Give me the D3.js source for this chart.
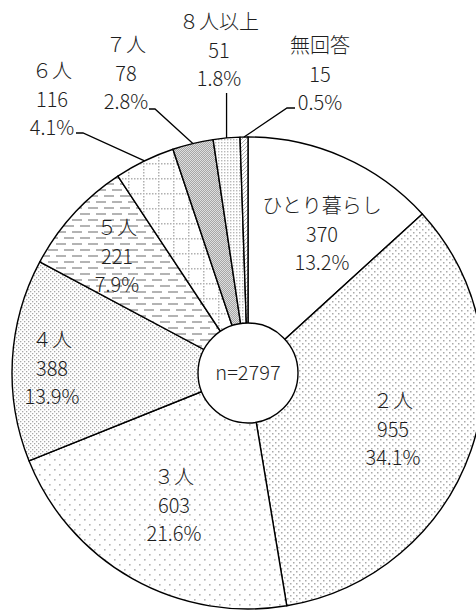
<!DOCTYPE html>
<html>
<head>
<meta charset="utf-8">
<script src="https://cdn.jsdelivr.net/npm/d3@7"></script>
<style>
html,body{margin:0;padding:0;background:#fff;overflow:hidden;}
svg{display:block;}
text{font-family:"Noto Sans CJK JP","Noto Sans",sans-serif;fill:#1e1e1e;font-weight:300;}
</style>
</head>
<body>
<svg id="chart" width="476" height="610"></svg>
<script>
// ---- data ----
const categories = ["ひとり暮らし","２人","３人","４人","５人","６人","７人","８人以上","無回答"];
const counts = [370,955,603,388,221,116,78,51,15];
const percents = ["13.2%","34.1%","21.6%","13.9%","7.9%","4.1%","2.8%","1.8%","0.5%"];
const totalLabel = "n=2797";

// ---- layout (not data) ----
const W = 476, H = 610;
const cx = 248, cy = 373, R = 236, r0 = 50;
const patternIds = ["pNone","p2","p3","p4","p5","p6","p7","p8","pNA"];
// label anchors: [centerX, firstBaseline]
const labelPos = [[322,213],[393,408],[174,484],[52,347],[117,235],[52,78],[126,52],[219,29],[320,53]];
const lineGap = 28.5;
// leader lines for outside labels: index -> [elbow, end]
const leaders = {5:[[83,133],[76,133]],6:[[155,109],[149,109]],7:[null,[227,93]],8:[[287,108],[295,108]]};

const svg = d3.select("#chart");
const defs = svg.append("defs");

function pat(id,w,h,draw,bg){
  const p = defs.append("pattern").attr("id",id).attr("patternUnits","userSpaceOnUse")
    .attr("width",w).attr("height",h);
  p.append("rect").attr("width",w).attr("height",h).attr("fill",bg||"#fff");
  draw(p);
}
const dot = (p,x,y,s,c)=>p.append("rect").attr("x",x).attr("y",y).attr("width",s).attr("height",s).attr("fill",c);

pat("pNone",4,4,()=>{});
pat("p2",6,6,p=>{dot(p,0,0,1.5,"#aaaaaa");dot(p,3,3,1.5,"#aaaaaa");});
pat("p3",10,10,p=>{dot(p,1,1,1.6,"#b4b4b4");dot(p,6,6,1.6,"#b4b4b4");});
pat("p4",4,4,p=>{dot(p,0,0,1.3,"#a8a8a8");dot(p,2,2,1.3,"#a8a8a8");});
pat("p5",16,12,p=>{
  p.append("rect").attr("x",0).attr("y",2).attr("width",10).attr("height",2).attr("fill","#b4b4b4");
  p.append("rect").attr("x",8).attr("y",8).attr("width",8).attr("height",2).attr("fill","#b4b4b4");
  p.append("rect").attr("x",0).attr("y",8).attr("width",2).attr("height",2).attr("fill","#b4b4b4");
});
pat("p6",15,15,p=>{
  for(let i=0;i<15;i+=3){dot(p,i,0,1.5,"#b0b0b0");}
  for(let j=3;j<15;j+=3){dot(p,0,j,1.5,"#b0b0b0");}
});
pat("p7",2,2,p=>{dot(p,0,0,1,"#a6a6a6");dot(p,1,1,1,"#a6a6a6");},"#dedede");
pat("p8",3,3,p=>{dot(p,0,0,1.4,"#b8b8b8");});
pat("pNA",4,4,p=>{
  p.append("path").attr("d","M0,4L4,0").attr("stroke","#b0b0b0").attr("stroke-width",1);
});

const pie = d3.pie().sort(null).value(d=>d);
const arcs = pie(counts);
const arc = d3.arc().innerRadius(0).outerRadius(R);

const g = svg.append("g").attr("transform",`translate(${cx},${cy})`);
g.selectAll("path.slice").data(arcs).enter().append("path")
  .attr("class","slice")
  .attr("d",arc)
  .attr("fill",(d,i)=>`url(#${patternIds[i]})`)
  .attr("stroke","#000").attr("stroke-width",1.4).attr("stroke-linejoin","round");

// leader lines
Object.keys(leaders).forEach(k=>{
  const i = +k, a = arcs[i];
  const mid = (a.startAngle+a.endAngle)/2;
  const ex = cx + R*Math.sin(mid), ey = cy - R*Math.cos(mid);
  const [elbow,end] = leaders[k];
  const pts = [[ex,ey]];
  if(elbow) pts.push(elbow);
  if(i===7) pts.push([ex,end[1]]); else pts.push(end);
  svg.append("path").attr("d",d3.line()(pts)).attr("fill","none")
    .attr("stroke","#000").attr("stroke-width",1.3);
});

// center circle
svg.append("circle").attr("cx",cx).attr("cy",cy).attr("r",r0)
  .attr("fill","#fff").attr("stroke","#000").attr("stroke-width",1.4);
svg.append("text").attr("x",cx).attr("y",cy+7).attr("text-anchor","middle")
  .attr("font-size",20).text(totalLabel);

// labels
categories.forEach((c,i)=>{
  const [x,y] = labelPos[i];
  const t = svg.append("text").attr("text-anchor","middle").attr("font-size",20);
  [c, String(counts[i]), percents[i]].forEach((s,j)=>{
    t.append("tspan").attr("x",x).attr("y",y+j*lineGap).text(s);
  });
});
</script>
</body>
</html>
